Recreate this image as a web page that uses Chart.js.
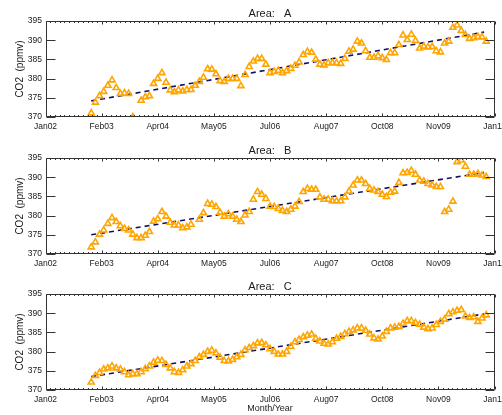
<!DOCTYPE html>
<html>
<head>
<meta charset="utf-8">
<script src="https://cdn.jsdelivr.net/npm/chart.js@4.4.1/dist/chart.umd.min.js"></script>
<style>
html, body { margin: 0; padding: 0; background: #fff; overflow: hidden; width: 502px; height: 415px; }
.panel { position: absolute; left: 0; }
</style>
</head>
<body>
<canvas id="chartA" class="panel" width="515" height="137" style="top:0px"></canvas>
<canvas id="chartB" class="panel" width="515" height="137" style="top:137px"></canvas>
<canvas id="chartC" class="panel" width="515" height="142" style="top:273px"></canvas>
<script>
/* ===============================
   DATA
================================ */
// months counted from Jan 2002 (= 0)
const monthIndex = [
    11, 12, 13, 14, 15, 16, 17, 18, 19, 20, 21, 22, 23, 24, 25, 26, 27, 28, 29, 30,
    31, 32, 33, 34, 35, 36, 37, 38, 39, 40, 41, 42, 43, 44, 45, 46, 47, 48, 49, 50,
    51, 52, 53, 54, 55, 56, 57, 58, 59, 60, 61, 62, 63, 64, 65, 66, 67, 68, 69, 70,
    71, 72, 73, 74, 75, 76, 77, 78, 79, 80, 81, 82, 83, 84, 85, 86, 87, 88, 89, 90,
    91, 92, 93, 94, 95, 96, 97, 98, 99, 100, 101, 102, 103, 104, 105, 106
];

const co2AreaA = [
    371.0, 373.8, 375.5, 376.6, 378.2, 379.6, 377.6, 376.1, 376.2, 376.1, 370.0, null, 374.3, 375.2, 375.5, 378.7, 380.0, 381.5, 379.0, 377.0,
    376.5, 377.0, 376.7, 377.1, 377.1, 378.2, 379.2, 380.3, 382.5, 382.4, 381.2, 379.4, 379.2, 380.0, 380.0, 380.0, 378.1, 381.0, 383.1, 384.5,
    385.2, 385.2, 383.7, 381.5, 381.8, 382.1, 381.5, 382.0, 382.6, 383.4, 384.3, 386.2, 387.0, 386.8, 385.0, 383.7, 383.5, 384.1, 384.1, 384.1,
    383.9, 385.2, 387.1, 387.6, 389.7, 389.2, 387.2, 385.5, 385.5, 385.9, 385.4, 384.9, 386.7, 386.7, 388.8, 391.3, 390.1, 391.5, 389.9, 387.9,
    388.4, 388.2, 388.3, 387.2, 386.9, 389.2, 389.7, 393.3, 393.9, 392.5, 391.4, 390.4, 390.6, 390.9, 390.8, 389.7
];

const co2AreaB = [
    371.8, 373.1, 375.1, 376.2, 377.9, 379.4, 378.4, 377.3, 376.6, 376.2, 375.1, 374.2, 374.2, 374.8, 375.8, 378.5, 379.1, 381.0, 379.8, 378.2,
    377.5, 377.5, 376.8, 377.0, 377.7, null, 379.0, 380.7, 383.1, 382.9, 382.3, 380.8, 379.8, 380.4, 379.8, 379.0, 378.4, 380.1, 381.0, 384.2,
    386.2, 385.5, 384.4, 382.4, 382.3, 381.8, 381.3, 381.0, 381.6, 382.4, 383.6, 386.2, 387.0, 386.8, 386.8, 384.8, 384.2, 384.2, 383.8, 383.8,
    383.8, 384.8, 386.3, 387.9, 389.2, 389.2, 388.3, 387.0, 386.6, 386.2, 385.5, 384.9, 386.0, 386.3, 388.6, 391.1, 391.2, 391.7, 390.7, 389.2,
    388.9, 388.3, 387.9, 387.5, 387.5, 381.0, 381.6, 383.7, 394.0, 394.4, 392.8, 390.7, 390.7, 390.9, 390.5, 390.1
];

const co2AreaC = [
    372.0, 373.7, 374.5, 375.4, 375.7, 376.2, 375.7, 375.4, 374.7, 373.9, 374.2, 374.2, 374.7, 375.5, 376.2, 377.2, 377.7, 377.6, 376.6, 375.7,
    374.7, 374.5, 375.2, 376.2, 376.8, 377.6, 378.6, 379.2, 380.0, 380.3, 379.6, 378.5, 377.6, 377.5, 377.9, 378.6, 379.2, 380.4, 381.0, 381.5,
    382.2, 382.3, 381.7, 380.7, 380.0, 379.3, 379.3, 380.0, 381.3, 382.5, 383.1, 383.8, 384.2, 384.5, 383.4, 382.7, 382.1, 381.9, 382.5, 383.4,
    383.9, 384.6, 385.2, 385.6, 386.1, 386.1, 385.5, 384.5, 383.5, 383.2, 384.0, 385.2, 386.1, 386.3, 386.5, 387.3, 388.0, 388.0, 387.5, 387.1,
    386.3, 385.9, 386.1, 387.0, 387.8, 388.4, 389.8, 390.3, 390.7, 390.9, 389.2, 388.8, 389.0, 387.8, 388.7, 389.5
];

// linear fit end points: [start, end]
const trendMonths = [11, 105.5];
const trendA = [374.2, 392.1];
const trendB = [375.0, 391.2];
const trendC = [373.5, 389.8];

// x axis ticks
const tickMonths = [0, 13.5, 27, 40.5, 54, 67.5, 81, 94.5, 108];
const tickLabels = ["Jan02", "Feb03", "Apr04", "May05", "Jul06", "Aug07", "Oct08", "Nov09", "Jan11"];

/* ===============================
   STYLE
================================ */
const FONT = "'Liberation Sans', Arial, sans-serif";
const ORANGE = "#FFA500";
const NAVY = "#10106a";
const AXIS = "#333333";
const TEXT = "#1a1a1a";

/* ===============================
   IDL-STYLE FRAME (box + inward ticks)
================================ */
const idlFrame = {
    id: "idlFrame",
    afterDraw(chart) {
        const { ctx, chartArea: a, scales } = chart;
        const xs = scales.x;
        const ys = scales.y;
        const L = Math.round(a.left) + 0.5;
        const R = Math.round(a.right) - 0.5;
        const T = Math.round(a.top) + 0.5;
        const B = Math.round(a.bottom) - 0.5;

        ctx.save();
        ctx.strokeStyle = AXIS;
        ctx.lineWidth = 1;
        ctx.beginPath();
        ctx.rect(L, T, R - L, B - T);

        // y majors, left and right
        ys.ticks.forEach(t => {
            const y = Math.round(ys.getPixelForValue(t.value)) + 0.5;
            ctx.moveTo(L, y); ctx.lineTo(L + 9, y);
            ctx.moveTo(R, y); ctx.lineTo(R - 9, y);
        });

        // x majors + minors, bottom and top
        const minorStep = (tickMonths[1] - tickMonths[0]) / 12;
        for (let k = 0; k * minorStep <= xs.max - xs.min + 0.001; k++) {
            const v = xs.min + k * minorStep;
            const x = Math.round(xs.getPixelForValue(v)) + 0.5;
            const len = (k % 12 === 0) ? 3 : 1.5;
            ctx.moveTo(x, B); ctx.lineTo(x, B - len);
            ctx.moveTo(x, T); ctx.lineTo(x, T + len);
        }
        ctx.stroke();
        ctx.restore();
    }
};

/* ===============================
   BUILD ONE PANEL
================================ */
function makePanel(canvasId, titleText, values, trend, xTitle) {
    const el = document.getElementById(canvasId);
    const H = el.height;

    const points = values.map((v, i) => ({ x: monthIndex[i], y: v }));
    const trendPts = trend.map((v, i) => ({ x: trendMonths[i], y: v }));

    return new Chart(el, {
        type: "scatter",
        data: {
            datasets: [{
                data: points,
                showLine: false,
                pointStyle: "triangle",
                pointRadius: 3.5,
                pointHoverRadius: 3.5,
                pointBorderWidth: 1.6,
                borderColor: ORANGE,
                backgroundColor: "rgba(255,255,255,0)"
            }, {
                data: trendPts,
                showLine: true,
                borderColor: NAVY,
                borderWidth: 1.6,
                borderDash: [5, 4],
                pointRadius: 0,
                pointHoverRadius: 0,
                fill: false
            }]
        },
        options: {
            responsive: false,
            animation: false,
            devicePixelRatio: 1,
            layout: { padding: { left: 0, right: 20.5, top: 0, bottom: 0 } },
            plugins: {
                legend: { display: false },
                tooltip: { enabled: false },
                title: {
                    display: true,
                    text: titleText,
                    fullSize: false,
                    color: TEXT,
                    font: { family: FONT, size: 11, weight: "normal", lineHeight: 1.2 },
                    padding: { top: 7.8, bottom: 0 }
                }
            },
            scales: {
                x: {
                    type: "linear",
                    min: 0,
                    max: 108,
                    afterBuildTicks: s => { s.ticks = tickMonths.map(v => ({ value: v })); },
                    afterFit: s => { s.height = H - 117; },
                    grid: { display: false, drawTicks: false },
                    border: { display: false },
                    ticks: {
                        autoSkip: false,
                        maxRotation: 0,
                        padding: 5,
                        color: TEXT,
                        font: { family: FONT, size: 8.5 },
                        callback: (v, i) => tickLabels[i]
                    },
                    title: {
                        display: !!xTitle,
                        text: xTitle || "",
                        color: TEXT,
                        font: { family: FONT, size: 9, lineHeight: 1.2 },
                        padding: { top: 0, bottom: 0.6 }
                    }
                },
                y: {
                    min: 370,
                    max: 395,
                    afterFit: s => { s.width = 45.5; },
                    grid: { display: false, drawTicks: false },
                    border: { display: false },
                    ticks: {
                        stepSize: 5,
                        padding: 3.5,
                        color: TEXT,
                        font: { family: FONT, size: 8.5 }
                    },
                    title: {
                        display: true,
                        text: "CO2  (ppmv)",
                        color: TEXT,
                        font: { family: FONT, size: 10, lineHeight: 1.2 },
                        padding: { top: 14.5, bottom: 0 }
                    }
                }
            }
        },
        plugins: [idlFrame]
    });
}

/* ===============================
   INIT
================================ */
makePanel("chartA", "Area:   A", co2AreaA, trendA, null);
makePanel("chartB", "Area:   B", co2AreaB, trendB, null);
makePanel("chartC", "Area:   C", co2AreaC, trendC, "Month/Year");
</script>
</body>
</html>
